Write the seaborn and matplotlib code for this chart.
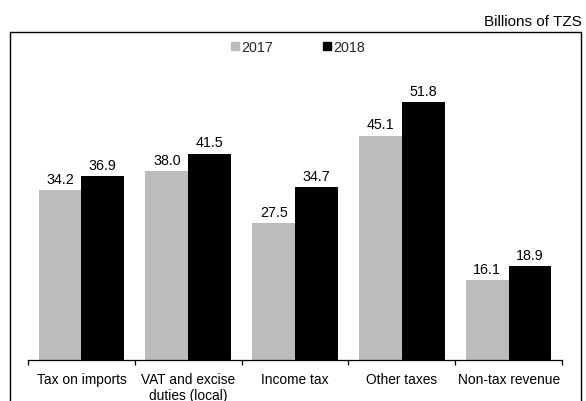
import matplotlib
matplotlib.use("Agg")
import matplotlib.pyplot as plt
from matplotlib.lines import Line2D
import seaborn as sns
import pandas as pd

categories = ["Tax on imports", "VAT and excise\nduties (local)", "Income tax", "Other taxes", "Non-tax revenue"]
years = ["2017", "2018"]
values_2017 = [34.2, 38.0, 27.5, 45.1, 16.1]
values_2018 = [36.9, 41.5, 34.7, 51.8, 18.9]
unit_label = "Billions of TZS"

df = pd.DataFrame({
    "category": categories * 2,
    "year": [years[0]] * len(categories) + [years[1]] * len(categories),
    "value": values_2017 + values_2018,
})

sns.set_theme(style="white")
plt.rcParams["font.family"] = ["Liberation Sans", "DejaVu Sans"]

W, H = 586, 402
fig = plt.figure(figsize=(W / 100, H / 100), dpi=100)
ax = fig.add_axes([28 / W, (H - 361) / H, (562 - 28) / W, (361 - 62.5) / H])

palette = {"2017": "#bcbcbc", "2018": "#000000"}
sns.barplot(data=df, x="category", y="value", hue="year", palette=palette,
            width=0.8, saturation=1, ax=ax, legend=False, order=categories,
            hue_order=years, linewidth=0)

for cont in ax.containers:
    ax.bar_label(cont, fmt="%.1f", padding=3, fontsize=10.3, color="#000000")

ax.set_ylim(0, 60)
ax.set_xlim(-0.5, len(categories) - 0.5)
ax.set_xlabel("")
ax.set_ylabel("")
ax.set_yticks([])
for s in ["left", "top", "right"]:
    ax.spines[s].set_visible(False)
ax.spines["bottom"].set_color("#000000")
ax.spines["bottom"].set_linewidth(0.9)

ax.set_xticks(range(len(categories)))
ax.set_xticklabels(categories, fontsize=9.9, color="#000000", linespacing=1.1)
ax.tick_params(axis="x", which="major", length=0, pad=9)
ax.set_xticks([i - 0.5 for i in range(len(categories) + 1)], minor=True)
ax.tick_params(axis="x", which="minor", length=3.5, width=0.9, color="#000000",
               direction="out", bottom=True)

handles = [plt.Rectangle((0, 0), 1, 1, color=palette[y]) for y in years]
fig.legend(handles, years, ncol=2, frameon=False, loc="center",
           bbox_to_anchor=(298 / W, (H - 48) / H), fontsize=10.3,
           handlelength=0.5, handleheight=0.5, handletextpad=0.15,
           columnspacing=3.55)

fig.text(582 / W, (H - 22) / H, unit_label, ha="right", va="center", fontsize=11,
         color="#000000")

x0, x1, yt = 10 / W, 581 / W, (H - 33) / H
for xs, ys in [([x0, x0], [0, yt]), ([x0, x1], [yt, yt]), ([x1, x1], [yt, 0])]:
    fig.add_artist(Line2D(xs, ys, transform=fig.transFigure, color="#000000",
                          linewidth=1.0))

fig.savefig("out.png", dpi=100)
